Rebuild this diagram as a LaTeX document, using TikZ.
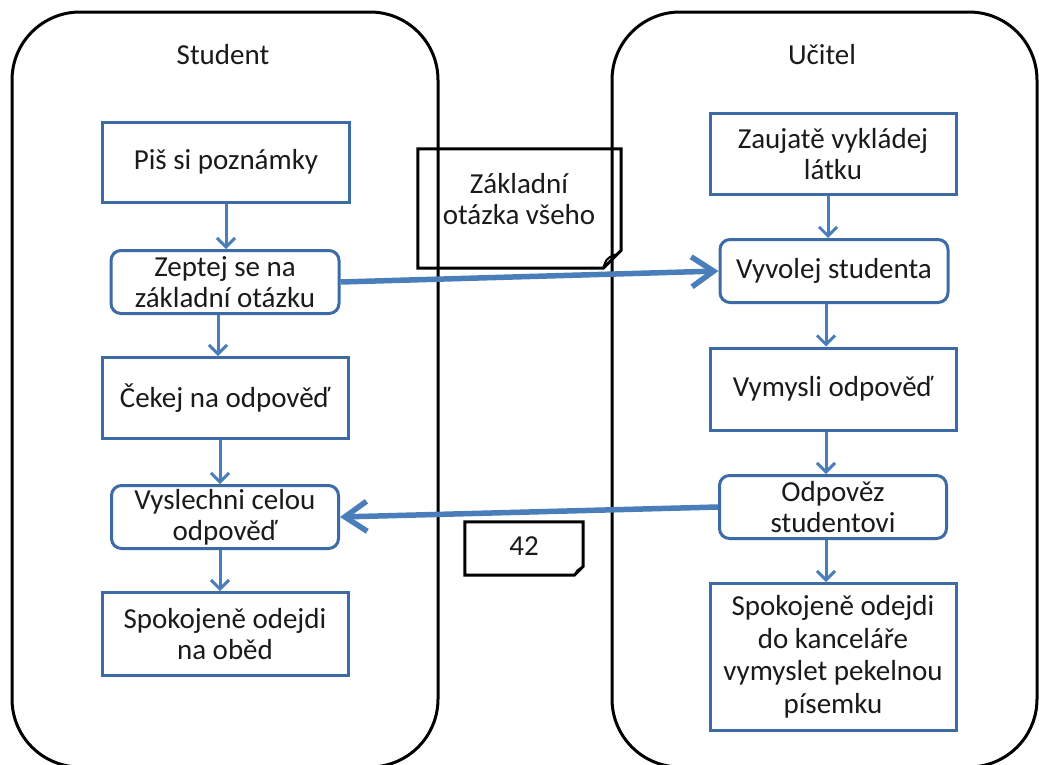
\documentclass[tikz,border=0pt]{standalone}
\usepackage{fontspec}
\setmainfont{Carlito}
\usetikzlibrary{arrows.meta,calc}
\definecolor{boxblue}{HTML}{3D6BA5}
\definecolor{arrblue}{HTML}{4A7EBB}
\definecolor{txt}{HTML}{1A1A1A}
\begin{document}
\begin{tikzpicture}[x=1pt,y=-1pt,
  every node/.style={font=\fontsize{29}{31}\selectfont, text=txt},
  lane/.style={draw=black, line width=3pt, rounded corners=68pt},
  stepbox/.style={draw=boxblue, line width=3pt, fill=white, align=center, inner sep=0pt},
  rbox/.style={stepbox, rounded corners=10pt},
  flow/.style={draw=arrblue, line width=3pt, -{Straight Barb[length=9pt,width=18pt]}},
  bigflow/.style={draw=arrblue, line width=5.5pt, -{Straight Barb[length=22pt,width=30pt]}},
  note/.style={draw=black, line width=3pt, line join=miter},
  shapebox/.style={inner sep=0pt, draw=none}
]
\useasboundingbox (0,0) rectangle (1039,764);

% swimlanes
\draw[lane] (12,12) rectangle (438,767);
\draw[lane] (612,12) rectangle (1037,767);
\node (hs) at (223,55) {Student};
\node (hu) at (822,55) {Učitel};

% left column
\node[stepbox, minimum width=247pt, minimum height=80pt] (p1) at (226,162) {Piš si poznámky};
\node[rbox, minimum width=228pt, minimum height=63pt] (p2) at (225,282) {Zeptej se na\\základní otázku};
\node[stepbox, minimum width=246pt, minimum height=81pt] (p3) at (225,398) {Čekej na odpověď};
\node[rbox, minimum width=227pt, minimum height=63pt] (p4) at (225,517) {Vyslechni celou\\odpověď};
\node[stepbox, minimum width=246pt, minimum height=83pt] (p5) at (225,634) {Spokojeně odejdi\\na oběd};

% right column
\node[stepbox, minimum width=246pt, minimum height=81pt] (q1) at (833,154) {Zaujatě vykládej\\látku};
\node[rbox, minimum width=228pt, minimum height=63pt] (q2) at (834,271) {Vyvolej studenta};
\node[stepbox, minimum width=246pt, minimum height=82pt] (q3) at (833,389) {Vymysli odpověď};
\node[rbox, minimum width=227pt, minimum height=63pt] (q4) at (833,507) {Odpověz\\studentovi};
\node[stepbox, minimum width=246pt, minimum height=147pt, font=\fontsize{29}{32.5}\selectfont] (q5) at (833,657) {Spokojeně odejdi\\do kanceláře\\vymyslet pekelnou\\písemku};

% vertical flows
\draw[flow] (p1.south -| 226,0) -- (p2.north -| 226,0);
\draw[flow] (p2.south -| 218,0) -- (p3.north -| 218,0);
\draw[flow] (p3.south -| 220,0) -- (p4.north -| 220,0);
\draw[flow] (p4.south -| 220,0) -- (p5.north -| 220,0);
\draw[flow] (q1.south -| 828,0) -- (q2.north -| 828,0);
\draw[flow] (q2.south -| 826,0) -- (q3.north -| 826,0);
\draw[flow] (q3.south -| 826,0) -- (q4.north -| 826,0);
\draw[flow] (q4.south -| 826,0) -- (q5.north -| 826,0);

% cross-lane flows
\draw[bigflow] (p2.east) -- (q2.west);
\draw[bigflow] (q4.west) -- (p4.east);

% notes
\node[shapebox, minimum width=203pt, minimum height=119pt] (n1) at (519.5,208.5) {};
\draw[note] (n1.north west) -- (n1.north east) -- ($(n1.south east)+(0,-18)$)
  -- ($(n1.south east)+(-18,0)$) -- (n1.south west) -- cycle;
\draw[line width=2pt] ($(n1.south east)+(-18,0)$) .. controls ($(n1.south east)+(-15,-9)$) .. ($(n1.south east)+(-8,-13)$)
  .. controls ($(n1.south east)+(-3,-14)$) .. ($(n1.south east)+(0,-18)$);
\node[align=center] (n1t) at (519,199) {Základní\\otázka všeho};

\node[shapebox, minimum width=118pt, minimum height=53pt] (n2) at (524,548.5) {};
\draw[note] (n2.north west) -- (n2.north east) -- ($(n2.south east)+(0,-9)$)
  -- ($(n2.south east)+(-9,0)$) -- (n2.south west) -- cycle;
\fill ($(n2.south east)+(-9,0)$) .. controls ($(n2.south east)+(-7,-6)$) .. ($(n2.south east)+(0,-9)$) -- cycle;
\node (n2t) at (524,546) {42};
\end{tikzpicture}
\end{document}
